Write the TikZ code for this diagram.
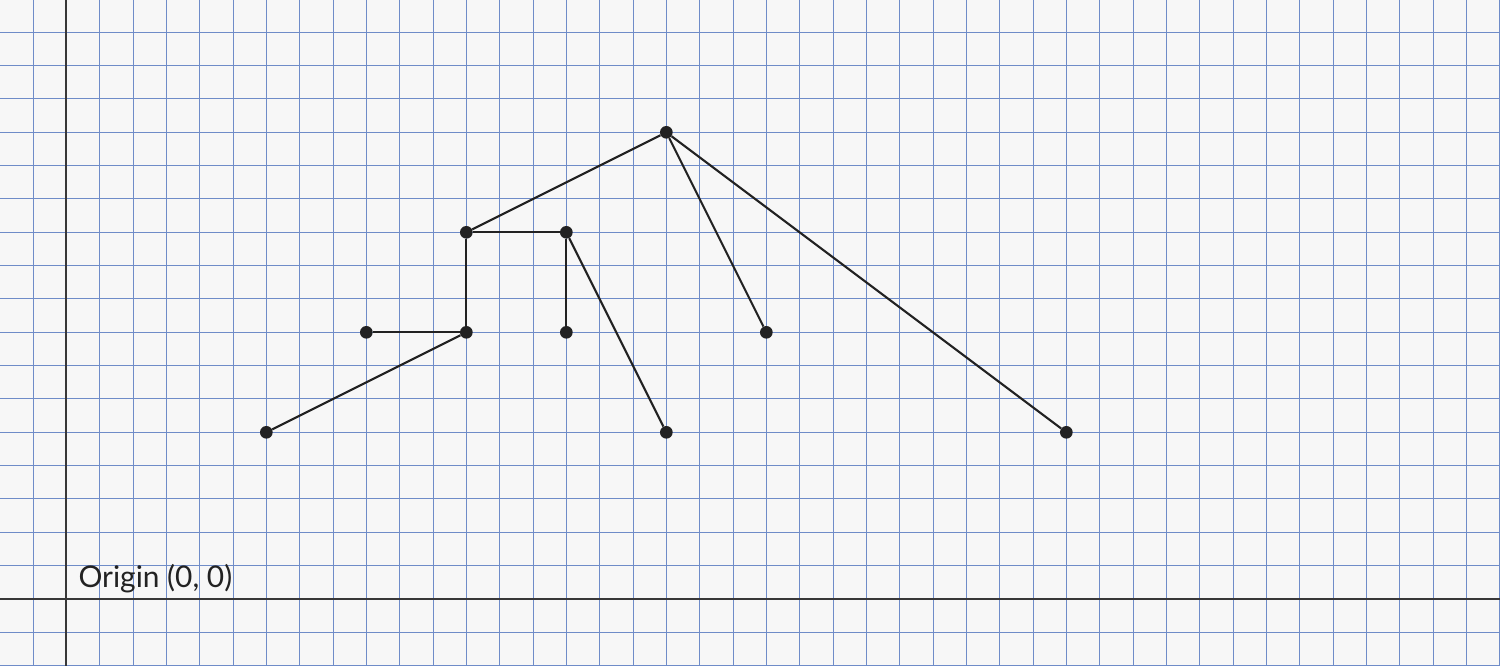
\documentclass[tikz,border=0pt]{standalone}
\usepackage{fontspec}
\setmainfont{Lato}
\definecolor{paper}{HTML}{F7F7F7}
\definecolor{gridblue}{HTML}{6F8CC8}
\definecolor{ink}{HTML}{222222}
\tikzset{
	dot/.style={circle, fill=ink, inner sep=0pt, minimum size=0.38cm},
	edge/.style={draw=ink, line width=1.8pt}
}
\begin{document}
\begin{tikzpicture}
	\useasboundingbox (-1.99,-2.01) rectangle (43.01,17.97);
	\fill [paper] (-1.99,-2.01) rectangle (43.01,17.97);
	\clip (-1.99,-2.01) rectangle (43.01,17.97);
	\draw [gridblue, line width=0.85pt] (-3,-3) grid (44,19);
	\draw [ink!90, line width=1.7pt] (-3,0) -- (44,0);
	\draw [ink!90, line width=1.7pt] (0,-3) -- (0,19);

	\node [anchor=base west, inner sep=0pt, font=\fontsize{25.5}{30}\selectfont, text=ink] (origin) at (0.36,0.33) {Origin (0, 0)};

	\node [dot] (top) at (18,14) {};
	\node [dot] (ul) at (12,11) {};
	\node [dot] (ur) at (15,11) {};
	\node [dot] (ml) at (9,8) {};
	\node [dot] (mc) at (12,8) {};
	\node [dot] (mr) at (15,8) {};
	\node [dot] (mrr) at (21,8) {};
	\node [dot] (bl) at (6,5) {};
	\node [dot] (bc) at (18,5) {};
	\node [dot] (br) at (30,5) {};

	\draw [edge] (top) -- (ul);
	\draw [edge] (top) -- (mrr);
	\draw [edge] (top) -- (br);
	\draw [edge] (ul) -- (ur);
	\draw [edge] (ul) -- (mc);
	\draw [edge] (ur) -- (mr);
	\draw [edge] (ur) -- (bc);
	\draw [edge] (ml) -- (mc);
	\draw [edge] (mc) -- (bl);
\end{tikzpicture}
\end{document}
